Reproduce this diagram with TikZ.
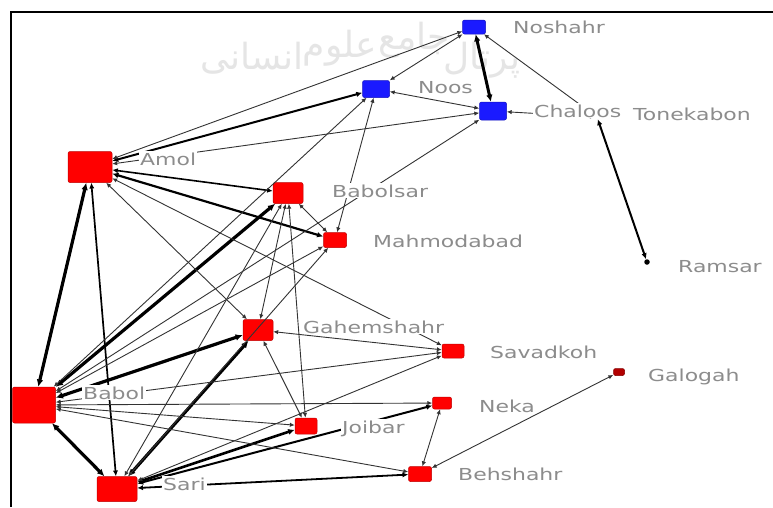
\documentclass[tikz,border=0pt]{standalone}
\usepackage{fontspec}
\usetikzlibrary{arrows.meta}
\newfontfamily\lblfont[FakeStretch=1.33]{DejaVu Sans}
\newfontfamily\arabicfont[Script=Arabic]{DejaVu Sans}
\definecolor{cityred}{HTML}{FF0000}
\definecolor{cityblue}{HTML}{1A1AFF}
\definecolor{labelgray}{HTML}{8C8C8C}
\definecolor{tiegray}{HTML}{333333}

\begin{document}
\begin{tikzpicture}[x=1pt,y=-1pt,
  city/.style={rectangle, rounded corners=2pt, inner sep=0pt,
    draw=#1!75!black, fill=#1, line width=0.5pt},
  redcity/.style={city=cityred},
  bluecity/.style={city=cityblue},
  lbl/.style={anchor=base west, fill=white, inner sep=1pt, text=labelgray,
    font=\lblfont\fontsize{16.5}{18}\selectfont},
  markword/.style={text=black!10, inner sep=0pt,
    font=\arabicfont\fontsize{36}{40}\selectfont},
  tie/.style={draw=tiegray, line width=0.9pt,
    {Latex[length=4pt 1,width=3.5pt 1]}-{Latex[length=4pt 1,width=3.5pt 1]}},
  mid/.style={tie, draw=black, line width=1.8pt},
  heavy/.style={tie, draw=black, line width=3.2pt},
]
\useasboundingbox (0,0) rectangle (773,507);
\fill[white] (0,0) rectangle (773,507);

% faint watermark, one word at a time along a rising line (read right to left)
\node[markword] (mark1) at (252,58) {انسانی};
\node[markword] (mark2) at (340,48) {علوم};
\node[markword] (mark3) at (414,40) {جامع};
\node[markword] (mark4) at (482,60) {پرتال};

% frame
\draw[line width=2pt] (11,507) -- (11,11.5) -- (773,11.5);

% cities
\node[redcity, minimum width=44pt, minimum height=31pt] (amol) at (90,167) {};
\node[redcity, minimum width=43pt, minimum height=36pt] (babol) at (34,405) {};
\node[redcity, minimum width=40pt, minimum height=25pt] (sari) at (117,489) {};
\node[redcity, minimum width=30pt, minimum height=21pt] (babolsar) at (288,193) {};
\node[redcity, minimum width=23pt, minimum height=15pt] (mahmod) at (335,240) {};
\node[redcity, minimum width=30pt, minimum height=21pt] (gahem) at (258,330) {};
\node[redcity, minimum width=22pt, minimum height=16pt] (joibar) at (306,426) {};
\node[redcity, minimum width=22pt, minimum height=14pt] (savad) at (453,351) {};
\node[redcity, minimum width=19pt, minimum height=12pt] (neka) at (442,403) {};
\node[redcity, minimum width=23pt, minimum height=15pt] (behsh) at (420,474) {};
\node[city=red!70!black, minimum width=11pt, minimum height=7pt] (galog) at (619,372) {};
\node[circle, fill=black, inner sep=0pt, minimum size=5.5pt] (ramsar) at (647,262) {};
\node[inner sep=0pt, minimum size=4pt] (tonek) at (597,117) {};
\node[bluecity, minimum width=23pt, minimum height=14pt] (noshahr) at (474,27) {};
\node[bluecity, minimum width=27pt, minimum height=17pt] (noos) at (376,89) {};
\node[bluecity, minimum width=27pt, minimum height=18pt] (chaloos) at (493,111) {};

% ties
\draw[heavy] (amol) -- (babol);
\draw[heavy] (babol) -- (babolsar);
\draw[heavy] (babol) -- (gahem);
\draw[heavy] (babol) -- (sari);
\draw[heavy] (sari) -- (gahem);
\draw[heavy, line width=3pt] (noshahr) -- (chaloos);
\draw[heavy, line width=2.6pt] (sari) -- (joibar);

\draw[mid, line width=2pt] (amol) -- (noos);
\draw[mid, line width=2.2pt] (amol) -- (mahmod);
\draw[mid, line width=1.6pt] (amol) -- (babolsar);
\draw[mid, line width=1.7pt] (amol) -- (sari);
\draw[mid, line width=2pt] (sari) -- (neka);
\draw[mid, line width=1.8pt] (sari) -- (behsh);
\draw[mid, line width=2pt] (tonek) -- (ramsar);

\draw[tie] (amol) -- (noshahr);
\draw[tie] (amol) -- (chaloos);
\draw[tie] (amol) -- (gahem);
\draw[tie] (amol) -- (savad);
\draw[tie] (noos) -- (noshahr);
\draw[tie] (noos) -- (chaloos);
\draw[tie] (noos) -- (mahmod);
\draw[tie] (noos) -- (babol);
\draw[tie] (chaloos) -- (babol);
\draw[tie] (noshahr) -- (tonek);
\draw[tie] (tonek) -- (chaloos);
\draw[tie] (babolsar) -- (mahmod);
\draw[tie] (babolsar) -- (gahem);
\draw[tie] (babolsar) -- (joibar);
\draw[tie] (babolsar) -- (sari);
\draw[tie] (babol) -- (mahmod);
\draw[tie] (babol) -- (savad);
\draw[tie] (babol) -- (neka);
\draw[tie] (babol) -- (joibar);
\draw[tie] (babol) -- (behsh);
\draw[tie] (gahem) -- (savad);
\draw[tie] (gahem) -- (joibar);
\draw[tie] (sari) -- (savad);
\draw[tie] (sari) -- (mahmod);
\draw[tie] (neka) -- (behsh);
\draw[tie] (behsh) -- (galog);

% labels
\node[lbl] (lamol) at (139,165) {Amol};
\node[lbl] (lnoshahr) at (512,33) {Noshahr};
\node[lbl] (lnoos) at (417,93) {Noos};
\node[lbl] (lchaloos) at (533,117) {Chaloos};
\node[lbl] (ltonek) at (632,120) {Tonekabon};
\node[lbl] (lbabolsar) at (331,197) {Babolsar};
\node[lbl] (lmahmod) at (372,247) {Mahmodabad};
\node[lbl] (lramsar) at (677,272) {Ramsar};
\node[lbl] (lgahem) at (302,333) {Gahemshahr};
\node[lbl] (lsavad) at (489,358) {Savadkoh};
\node[lbl] (lgalog) at (647,381) {Galogah};
\node[lbl] (lneka) at (478,412) {Neka};
\node[lbl] (ljoibar) at (341,433) {Joibar};
\node[lbl] (lbehsh) at (457,480) {Behshahr};
\node[lbl] (lbabol) at (82,399) {Babol};
\node[lbl] (lsari) at (162,490) {Sari};
\end{tikzpicture}
\end{document}
